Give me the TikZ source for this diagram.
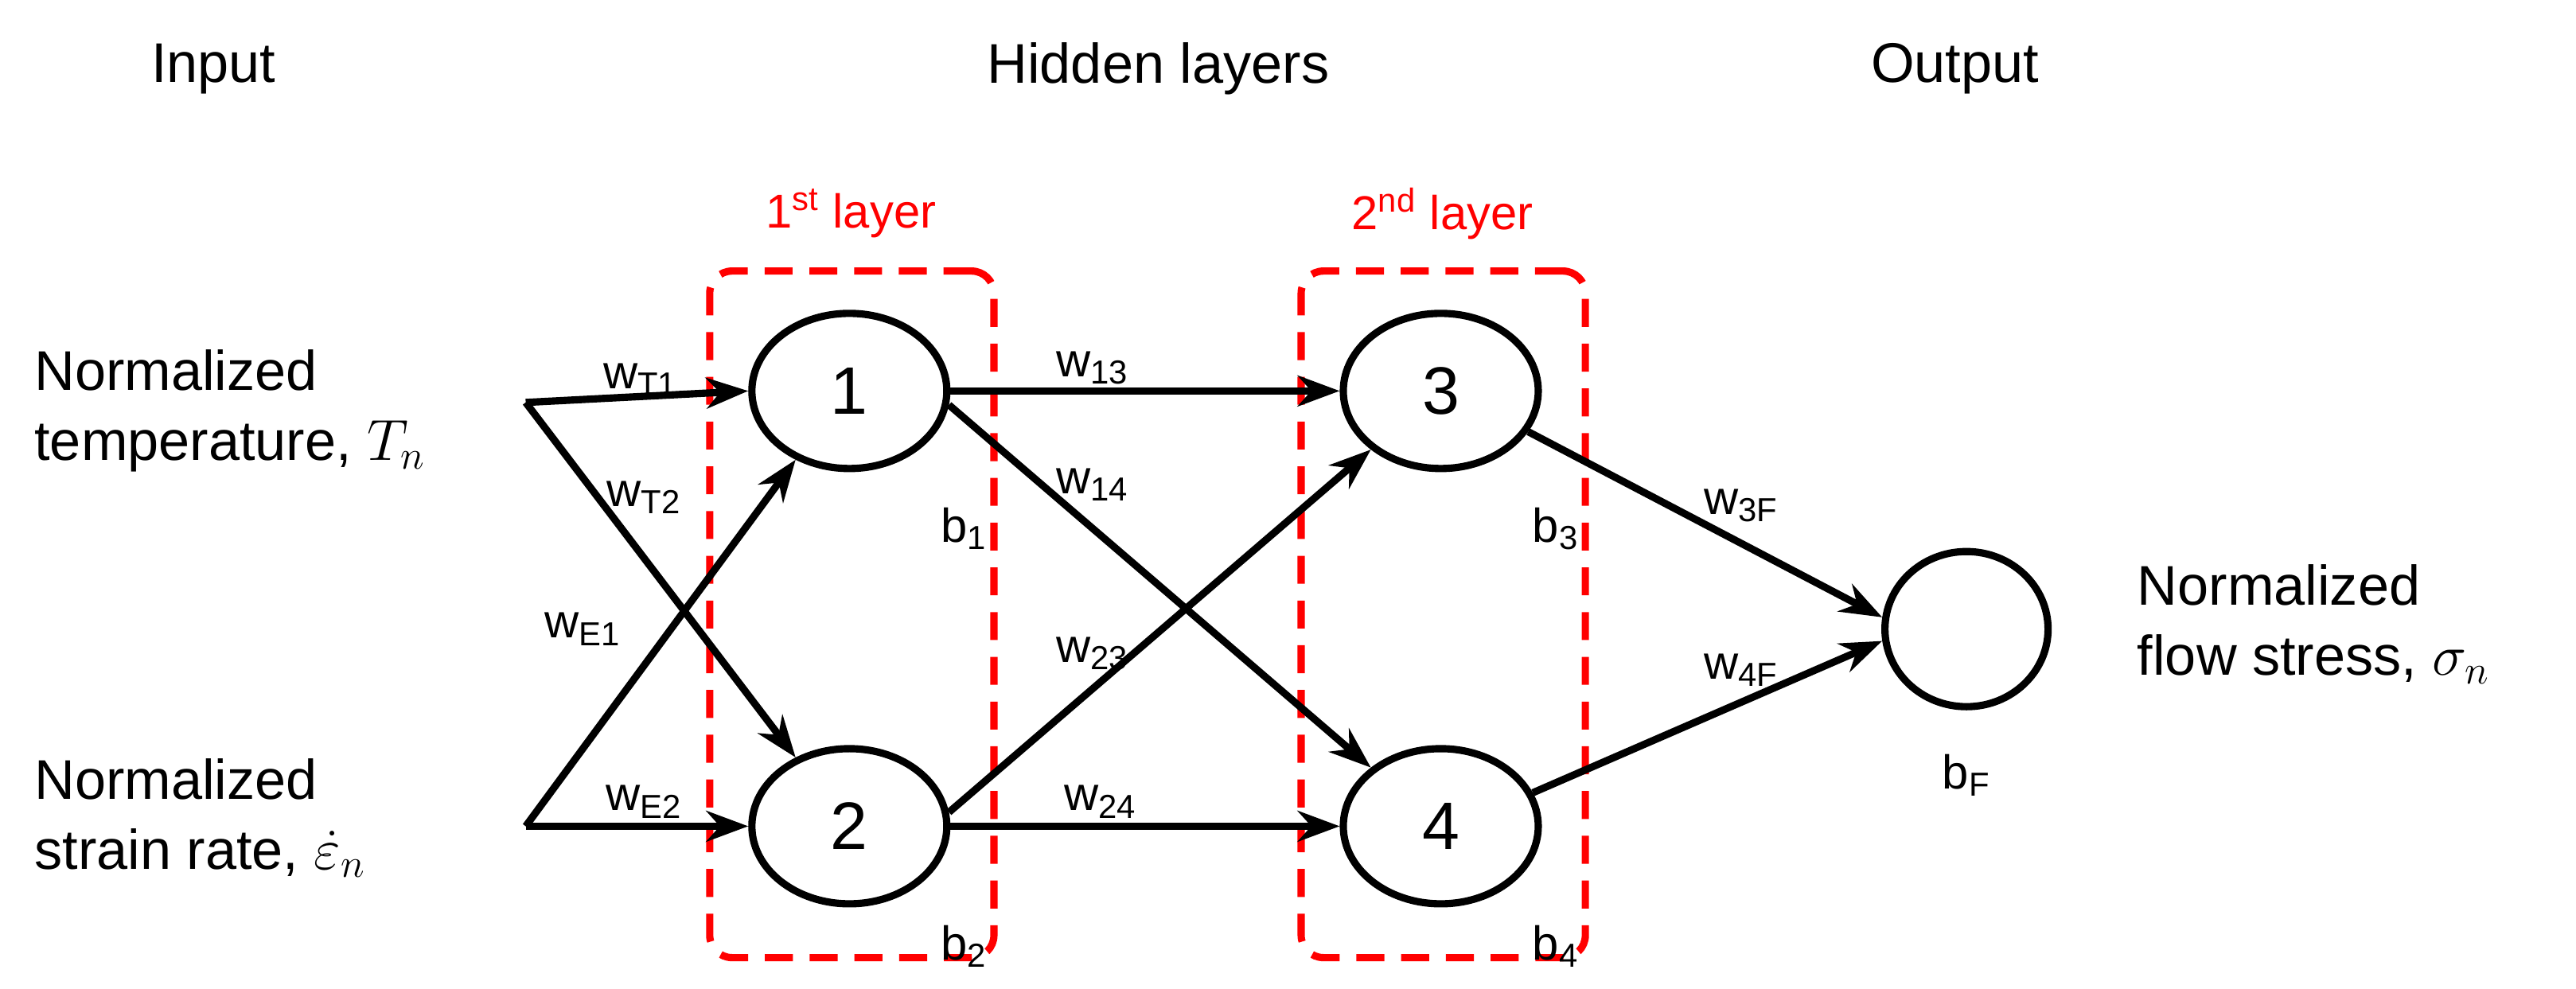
\documentclass[tikz,border=0pt]{standalone}
\usepackage{fontspec}
\setmainfont{Liberation Sans}
\usetikzlibrary{shapes.geometric,arrows.meta}
\begin{document}
\begin{tikzpicture}[x=0.02064cm,y=-0.02064cm,
  neuron/.style={ellipse,draw,line width=2.6pt,minimum width=2.45cm,minimum height=1.95cm,inner sep=0pt,font=\fontsize{24}{28}\selectfont},
  outneuron/.style={ellipse,draw,line width=2.6pt,minimum width=2.05cm,minimum height=1.95cm,inner sep=0pt},
  conn/.style={line width=2.6pt,-{Stealth[length=15pt,width=11pt]}},
  wlab/.style={font=\fontsize{17}{20}\selectfont,inner sep=1pt},
  big/.style={font=\fontsize{20}{25}\selectfont,align=left},
  head/.style={font=\fontsize{20}{24}\selectfont},
  box/.style={draw=red,dashed,line width=2.6pt,dash pattern=on 10pt off 6pt,rounded corners=8pt},
  rlab/.style={text=red,font=\fontsize{17}{20}\selectfont}]
\useasboundingbox (0,0) rectangle (1568,602);
\node[head] (hin) at (130,42) {Input};
\node[head] (hhid) at (705,42) {Hidden layers};
\node[head] (hout) at (1190,42) {Output};
\node[box,minimum width=173*0.02064cm,minimum height=418*0.02064cm] (box1) at (518.5,374) {};
\node[box,minimum width=173*0.02064cm,minimum height=418*0.02064cm] (box2) at (878.5,374) {};
\node[rlab] (l1) at (518,130) {1\textsuperscript{st} layer};
\node[rlab] (l2) at (878,130) {2\textsuperscript{nd} layer};
\node[neuron] (n1) at (517,238) {1};
\node[neuron] (n2) at (517,503) {2};
\node[neuron] (n3) at (877,238) {3};
\node[neuron] (n4) at (877,503) {4};
\node[outneuron] (nF) at (1197,383) {};
\coordinate (iT) at (320,245);
\coordinate (iE) at (320,503);
\node[big,anchor=west] (tT) at (15,250) {Normalized\\temperature, $T_n$};
\node[big,anchor=west] (tE) at (15,498) {Normalized\\strain rate, $\dot{\varepsilon}_n$};
\node[big,anchor=west] (tF) at (1295,380) {Normalized\\flow stress, $\sigma_n$};
\draw[conn] (iT) -- (n1.west);
\draw[conn] (iT) -- (n2.128);
\draw[conn] (iE) -- (n1.232);
\draw[conn] (iE) -- (n2.west);
\draw[conn] (n1.east) -- (n3.west);
\draw[conn] (n1.-8) -- (n4.140);
\draw[conn] (n2.8) -- (n3.220);
\draw[conn] (n2.east) -- (n4.west);
\draw[conn] (n3.-25) -- (nF.172);
\draw[conn] (n4.20) -- (nF.188);
\node[wlab,anchor=south] (wT1) at (390,243) {w\textsubscript{T1}};
\node[wlab] (wT2) at (392,303) {w\textsubscript{T2}};
\node[wlab] (wE1) at (355,383) {w\textsubscript{E1}};
\node[wlab,anchor=south] (wE2) at (392,500) {w\textsubscript{E2}};
\node[wlab,anchor=south] (w13) at (665,236) {w\textsubscript{13}};
\node[wlab] (w14) at (665,295) {w\textsubscript{14}};
\node[wlab] (w23) at (665,398) {w\textsubscript{23}};
\node[wlab,anchor=south] (w24) at (670,500) {w\textsubscript{24}};
\node[wlab] (w3F) at (1060,308) {w\textsubscript{3F}};
\node[wlab] (w4F) at (1060,408) {w\textsubscript{4F}};
\node[wlab] (b1) at (587,322) {b\textsubscript{1}};
\node[wlab] (b2) at (587,576) {b\textsubscript{2}};
\node[wlab] (b3) at (947,322) {b\textsubscript{3}};
\node[wlab] (b4) at (947,576) {b\textsubscript{4}};
\node[wlab] (bF) at (1197,472) {b\textsubscript{F}};
\end{tikzpicture}
\end{document}
